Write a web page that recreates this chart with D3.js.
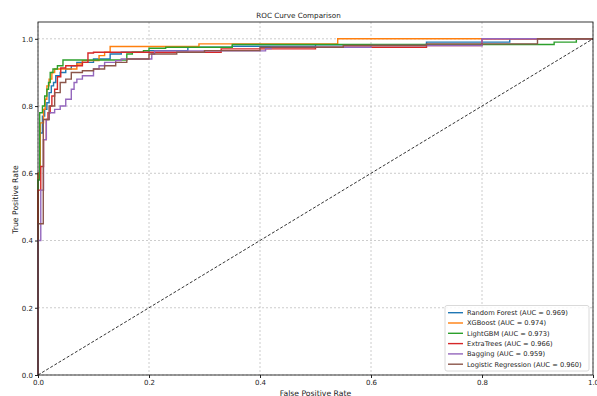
<!DOCTYPE html>
<html><head><meta charset="utf-8">
<script src="https://cdn.jsdelivr.net/npm/d3@7"></script>
<style>body{margin:0;background:#fff}svg{display:block}text{font-family:"DejaVu Sans",sans-serif;fill:#222}</style>
</head><body><svg id="c" width="597" height="396"></svg>
<script>
const seriesNames = ["Random Forest","XGBoost","LightGBM","ExtraTrees","Bagging","Logistic Regression"];
const aucValues = [0.969,0.974,0.973,0.966,0.959,0.960];
const seriesColors = ["#1f77b4","#ff7f0e","#2ca02c","#d62728","#9467bd","#8c564b"];
const xTicks = [0,0.2,0.4,0.6,0.8,1.0];
const yTicks = [0,0.2,0.4,0.6,0.8,1.0];

const rfFpr  = [0,0,0.004,0.004,0.008,0.008,0.012,0.016,0.02,0.024,0.028,0.032,0.04,0.05,0.06,0.07,0.10,0.13,0.15,0.20,0.27,0.35,0.50,0.70,0.85,1];
const rfTpr  = [0,0.58,0.60,0.70,0.72,0.75,0.77,0.79,0.81,0.84,0.86,0.87,0.89,0.90,0.91,0.92,0.93,0.94,0.955,0.96,0.965,0.975,0.978,0.982,0.99,1];
const xgbFpr = [0,0,0.004,0.004,0.01,0.013,0.016,0.02,0.025,0.03,0.04,0.07,0.08,0.11,0.12,0.13,0.155,0.17,0.29,0.30,0.54,0.54,1];
const xgbTpr = [0,0.55,0.60,0.74,0.75,0.79,0.82,0.86,0.88,0.90,0.91,0.91,0.925,0.935,0.95,0.96,0.977,0.977,0.977,0.985,0.985,0.993,1];
const lgbFpr = [0,0,0.003,0.003,0.008,0.012,0.016,0.019,0.022,0.027,0.035,0.045,0.05,0.16,0.17,0.19,0.20,0.23,0.35,0.36,0.93,0.93,0.97,1];
const lgbTpr = [0,0.55,0.58,0.75,0.78,0.80,0.83,0.85,0.87,0.90,0.91,0.92,0.937,0.937,0.955,0.96,0.965,0.972,0.975,0.983,0.983,0.99,0.99,1];
const etFpr  = [0,0,0.005,0.01,0.015,0.018,0.022,0.025,0.03,0.035,0.041,0.05,0.08,0.09,0.10,0.12,0.33,0.33,0.50,0.70,0.80,1];
const etTpr  = [0,0.52,0.55,0.62,0.70,0.76,0.78,0.80,0.83,0.85,0.887,0.913,0.92,0.93,0.958,0.96,0.96,0.967,0.97,0.975,0.98,1];
const bagFpr = [0,0,0.005,0.01,0.015,0.02,0.03,0.04,0.05,0.06,0.065,0.07,0.08,0.10,0.11,0.12,0.14,0.15,0.18,0.205,0.21,0.41,0.42,0.60,0.80,1];
const bagTpr = [0,0.38,0.40,0.55,0.70,0.76,0.78,0.79,0.80,0.82,0.85,0.87,0.88,0.89,0.91,0.92,0.93,0.935,0.94,0.94,0.955,0.964,0.971,0.975,0.98,1];
const lrFpr  = [0,0,0.0095,0.0095,0.02,0.03,0.04,0.05,0.06,0.08,0.10,0.12,0.14,0.16,0.20,0.25,0.30,0.40,0.55,0.70,0.90,0.90,1];
const lrTpr  = [0,0.44,0.45,0.74,0.76,0.80,0.84,0.87,0.88,0.90,0.905,0.91,0.92,0.93,0.94,0.955,0.96,0.965,0.975,0.98,0.985,0.99,1];
const fprs = [rfFpr,xgbFpr,lgbFpr,etFpr,bagFpr,lrFpr];
const tprs = [rfTpr,xgbTpr,lgbTpr,etTpr,bagTpr,lrTpr];

const svg = d3.select("#c");
const L=38, R=593, T=22, B=375;
const x = d3.scaleLinear().domain([0,1]).range([L,R]);
const y = d3.scaleLinear().domain([0,1.05]).range([B,T]);

// grid
const g = svg.append("g");
g.selectAll(".gx").data(xTicks).join("line").attr("x1",d=>x(d)).attr("x2",d=>x(d)).attr("y1",T).attr("y2",B)
  .attr("stroke","#b0b0b0").attr("stroke-dasharray","2,2").attr("stroke-width",0.8).attr("opacity",0.8);
g.selectAll(".gy").data(yTicks).join("line").attr("y1",d=>y(d)).attr("y2",d=>y(d)).attr("x1",L).attr("x2",R)
  .attr("stroke","#b0b0b0").attr("stroke-dasharray","2,2").attr("stroke-width",0.8).attr("opacity",0.8);

// curves
const stepLine = d3.line().x(d=>x(d[0])).y(d=>y(d[1])).curve(d3.curveStepBefore);
const line = d3.line().x(d=>x(d[0])).y(d=>y(d[1]));
seriesNames.forEach((n,i)=>{
  const pts = fprs[i].map((f,j)=>[f,tprs[i][j]]);
  svg.append("path").datum(pts).attr("d",stepLine).attr("fill","none")
    .attr("stroke",seriesColors[i]).attr("stroke-width",1.4);
});
// diagonal
svg.append("path").datum([[0,0],[1,1]]).attr("d",line).attr("fill","none")
  .attr("stroke","#000").attr("stroke-width",0.8).attr("stroke-dasharray","3,1.8");

// axes
const xa = svg.append("g").attr("transform",`translate(0,${B})`)
  .call(d3.axisBottom(x).tickValues(xTicks).tickFormat(d3.format(".1f")).tickSize(3).tickPadding(2));
const ya = svg.append("g").attr("transform",`translate(${L},0)`)
  .call(d3.axisLeft(y).tickValues(yTicks).tickFormat(d3.format(".1f")).tickSize(3).tickPadding(2));
[xa,ya].forEach(a=>{a.select(".domain").remove();a.selectAll("text").attr("font-size",7).attr("font-family","DejaVu Sans").attr("fill","#222");a.selectAll("line").attr("stroke","#222");});
svg.append("rect").attr("x",L).attr("y",T).attr("width",R-L).attr("height",B-T)
  .attr("fill","none").attr("stroke","#222").attr("stroke-width",0.9);

// labels
svg.append("text").attr("x",298.5).attr("y",17.5).attr("text-anchor","middle").attr("font-size",7.2).text("ROC Curve Comparison");
svg.append("text").attr("x",(L+R)/2).attr("y",396).attr("text-anchor","middle").attr("font-size",7.7).text("False Positive Rate");
svg.append("text").attr("transform",`translate(17.5,${(T+B)/2+1}) rotate(-90)`).attr("text-anchor","middle").attr("font-size",7.7).text("True Positive Rate");

// legend
const lg = svg.append("g");
lg.append("rect").attr("x",445).attr("y",305.5).attr("width",144).attr("height",65.5).attr("rx",2)
  .attr("fill","#fff").attr("fill-opacity",0.85).attr("stroke","#d0d0d0").attr("stroke-width",0.8);
seriesNames.forEach((n,i)=>{
  const yy = 312.7 + i*10.3;
  lg.append("line").attr("x1",448).attr("x2",463).attr("y1",yy).attr("y2",yy).attr("stroke",seriesColors[i]).attr("stroke-width",1.4);
  lg.append("text").attr("x",467).attr("y",yy+2.4).attr("font-size",6.7).text(`${n} (AUC = ${aucValues[i].toFixed(3)})`);
});
</script></body></html>
